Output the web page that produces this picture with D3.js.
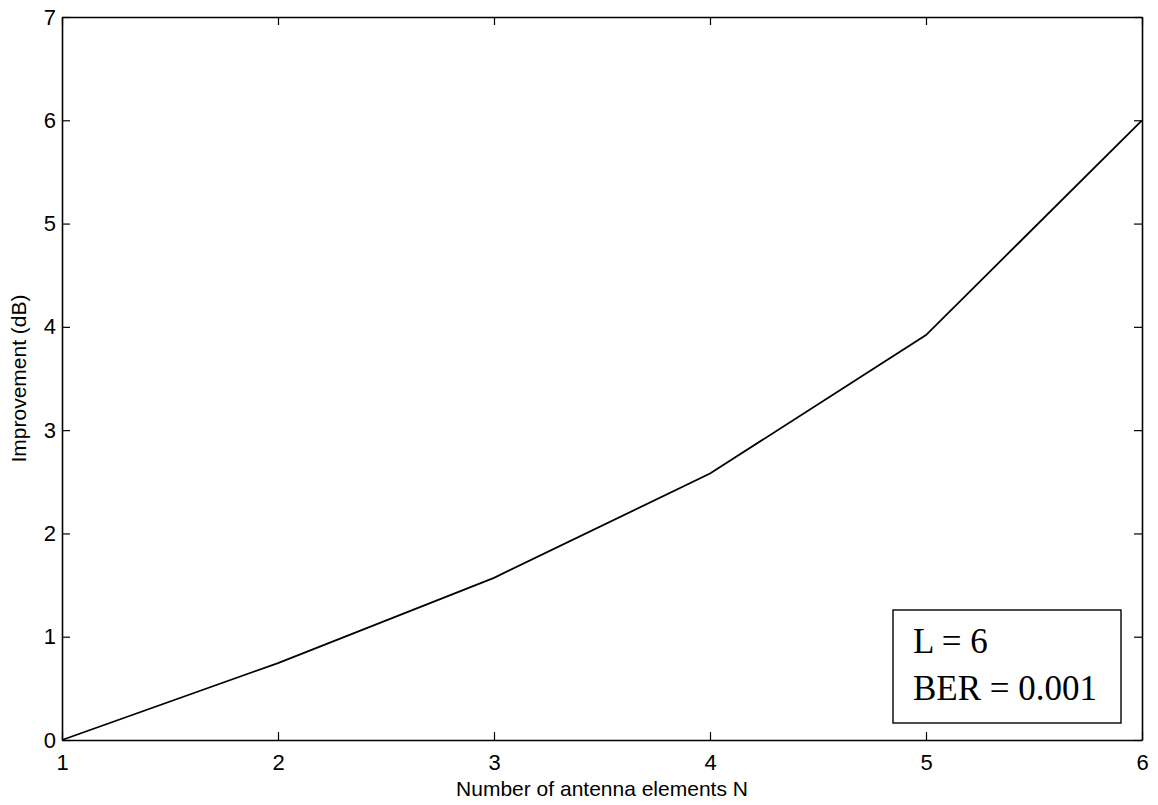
<!DOCTYPE html>
<html>
<head>
<meta charset="utf-8">
<script src="https://cdn.jsdelivr.net/npm/d3@7"></script>
<style>
  body { margin: 0; background: #fff; }
  text { fill: #000; }
</style>
</head>
<body>
<div id="chart"></div>
<script>
// values
var antennas = [1, 2, 3, 4, 5, 6]
var improvement = [0, 0.745, 1.57, 2.58, 3.92, 6.0]
var xTicks = [1, 2, 3, 4, 5, 6]
var yTicks = [0, 1, 2, 3, 4, 5, 6, 7]
var legendLines = ["L = 6", "BER = 0.001"]

var W = 1158, H = 805
var margin = {top: 17, right: 16, bottom: 65, left: 62},
  width = W - margin.left - margin.right,
  height = H - margin.top - margin.bottom

var svg = d3.select("#chart")
  .append("svg")
    .attr("width", W)
    .attr("height", H)
  .append("g")
    .attr("transform", "translate(" + margin.left + "," + margin.top + ")")

var x = d3.scaleLinear().domain([1, 6]).range([0, width])
var y = d3.scaleLinear().domain([0, 7]).range([height, 0])

var font = "Helvetica, Arial, 'Liberation Sans', sans-serif"

// axes, ticks drawn inward like matlab
function styleAxis(g) {
  g.selectAll("path").attr("stroke", "#000").attr("stroke-width", 1.6)
  g.selectAll("line").attr("stroke", "#000").attr("stroke-width", 1.2)
  g.selectAll("text").style("font-family", font).style("font-size", "22px")
}

svg.append("g")
  .attr("transform", "translate(0," + height + ")")
  .call(d3.axisBottom(x).tickValues(xTicks).tickSize(-8).tickSizeOuter(0).tickPadding(14).tickFormat(d3.format("d")))
  .call(styleAxis)

svg.append("g")
  .call(d3.axisLeft(y).tickValues(yTicks).tickSize(-8).tickSizeOuter(0).tickPadding(6).tickFormat(d3.format("d")))
  .call(styleAxis)

svg.append("g")
  .call(d3.axisTop(x).tickValues(xTicks).tickSize(-8).tickSizeOuter(0).tickFormat(""))
  .call(styleAxis)

svg.append("g")
  .attr("transform", "translate(" + width + ",0)")
  .call(d3.axisRight(y).tickValues(yTicks).tickSize(-8).tickSizeOuter(0).tickFormat(""))
  .call(styleAxis)

// the curve
var line = d3.line()
  .x(function(d, i) { return x(antennas[i]) })
  .y(function(d) { return y(d) })

svg.append("path")
  .datum(improvement)
  .attr("d", line)
  .attr("fill", "none")
  .attr("stroke", "#000")
  .attr("stroke-width", 1.8)

// axis titles
svg.append("text")
  .attr("x", width / 2)
  .attr("y", height + 56)
  .attr("text-anchor", "middle")
  .style("font-family", font)
  .style("font-size", "21px")
  .text("Number of antenna elements N")

svg.append("text")
  .attr("transform", "translate(-36," + (height / 2) + ") rotate(-90)")
  .attr("text-anchor", "middle")
  .style("font-family", font)
  .style("font-size", "21px")
  .text("Improvement (dB)")

// legend box
var lg = svg.append("g")
  .attr("transform", "translate(" + (893 - margin.left) + "," + (610 - margin.top) + ")")

lg.append("rect")
  .attr("width", 228)
  .attr("height", 113)
  .attr("fill", "#fff")
  .attr("stroke", "#000")
  .attr("stroke-width", 1.4)

lg.selectAll("text.leg")
  .data(legendLines)
  .enter().append("text")
    .attr("class", "leg")
    .attr("x", 20)
    .attr("y", function(d, i) { return 43 + i * 47 })
    .style("font-family", "'Liberation Serif', 'Times New Roman', serif")
    .style("font-size", "35px")
    .text(function(d) { return d })
</script>
</body>
</html>
